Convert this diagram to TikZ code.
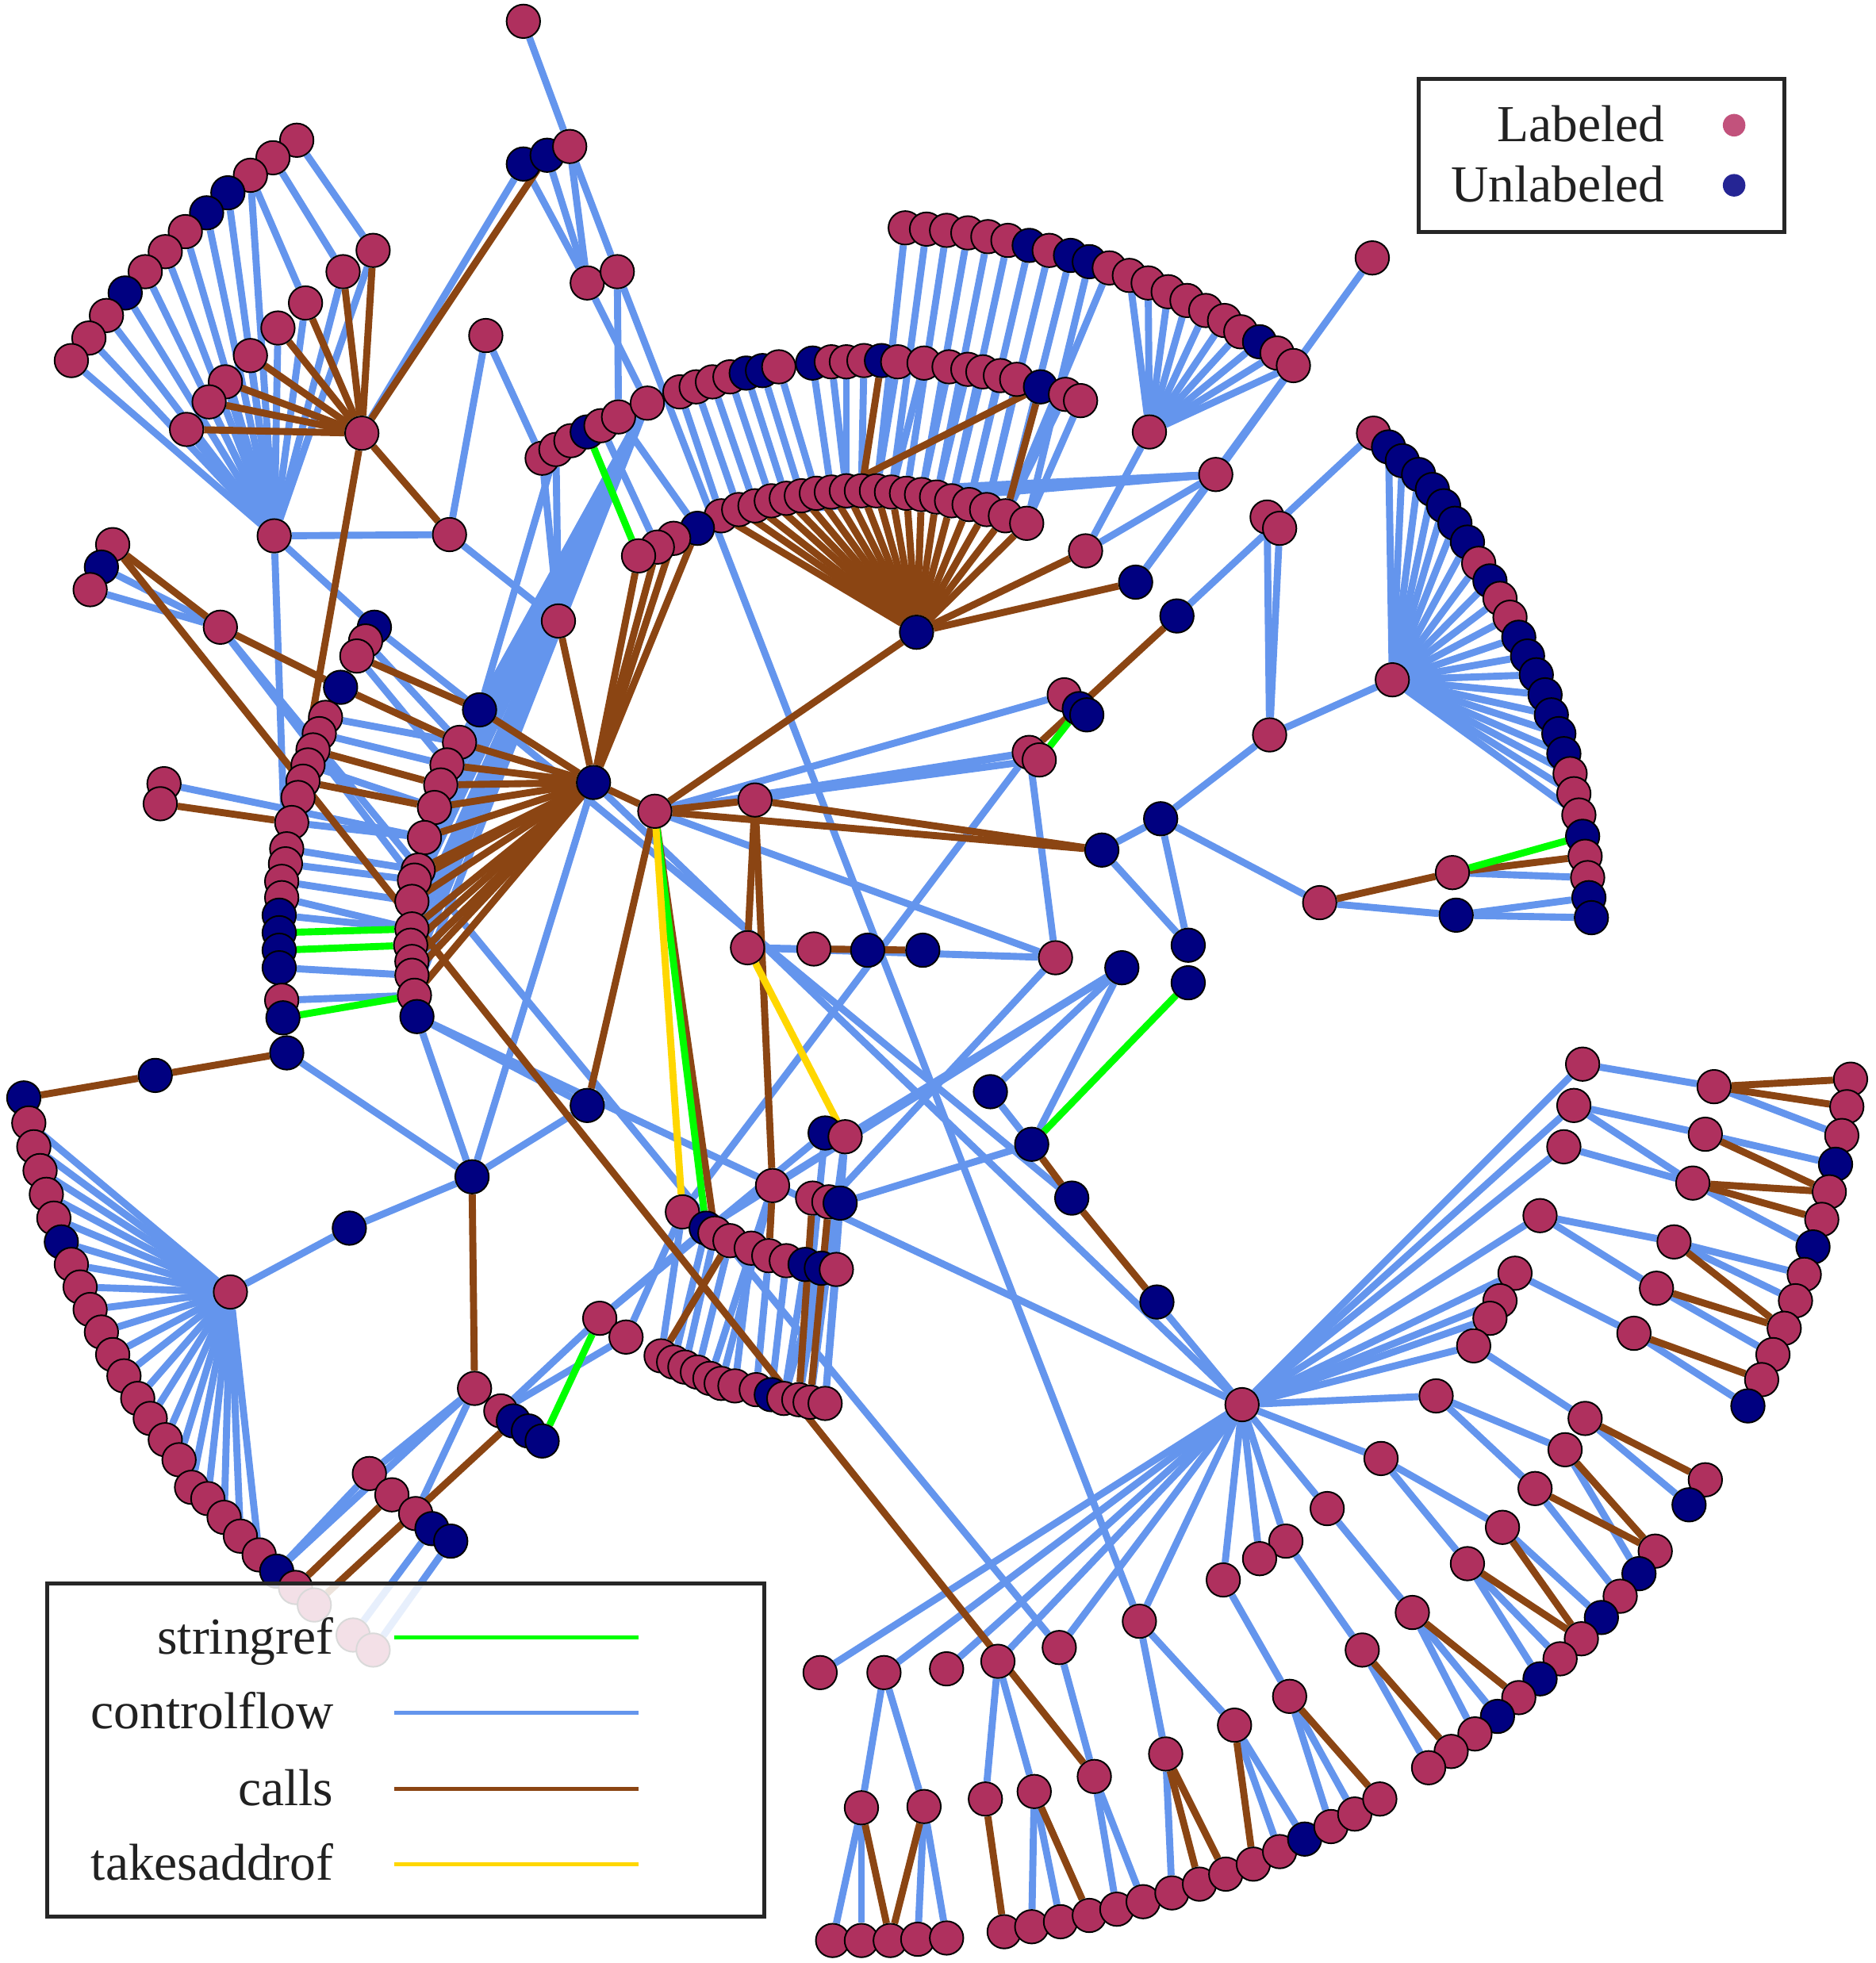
\documentclass[tikz,border=0pt]{standalone}
\usepackage{fontspec}
\setmainfont{Liberation Serif}
\usetikzlibrary{positioning}

\definecolor{L}{HTML}{AF305E}
\definecolor{U}{HTML}{000080}
\definecolor{azul}{HTML}{6495ED}
\definecolor{marrom}{HTML}{8B4513}
\definecolor{verde}{HTML}{00FF00}
\definecolor{amarelo}{HTML}{FFD700}
\definecolor{legL}{HTML}{C2527C}
\definecolor{legU}{HTML}{252594}
\definecolor{borda}{HTML}{262626}

\pgfdeclarelayer{fundo}
\pgfdeclarelayer{frente}
\pgfsetlayers{fundo,main,frente}

\begin{document}
\begin{tikzpicture}[x=0.01cm, y=-0.01cm]

  % ── Estilos ────────────────────────
  \tikzset{
    no/.style = {circle, draw=black, line width=0.35pt, minimum size=0.268cm, inner sep=0pt},
    fluxo/.style = {draw=azul, line width=1.6pt},
    chamada/.style = {draw=marrom, line width=1.6pt},
    strref/.style = {draw=verde, line width=1.6pt},
    endereco/.style = {draw=amarelo, line width=1.6pt},
    caixa/.style = {draw=borda, line width=0.9pt, fill=white, fill opacity=0.85},
    rotulo/.style = {font=\fontsize{11.8}{14}\selectfont, text=black!87, inner sep=0pt},
    marca/.style = {circle, minimum size=0.18cm, inner sep=0pt},
    linhaleg/.style = {line width=0.9pt}
  }

  \useasboundingbox (0,0) rectangle (1498,1568);

  % =========================================================
  % 1. NOS
  % =========================================================

  % leque superior esquerdo
  \foreach \nome/\px/\py/\cor in {
    h1/219/428/L, h2/289/346/L,
    a1/237/112/L, a2/218/126/L, a3/200/140/L, a4/182/154/U, a5/165/170/U, a6/148/185/L,
    a7/132/201/L, a8/116/217/L, a9/100/234/U, a10/85/252/L, a11/71/270/L, a12/57/288/L,
    b1/298/200/L, b2/274/217/L, b3/244/242/L, b4/222/262/L, b5/200/284/L, b6/180/305/L,
    b7/167/321/L, b8/149/343/L,
    t1/418/17/L, t2/418/131/U, t3/437/124/U, t4/455/117/L, t5/469/226/L, t6/493/217/L,
    t7/388/268/L, t8/359/427/L, tr/1096/206/L,
    n1/176/501/L, n2/299/501/U, n3/292/512/L, n4/285/524/L, n5/272/549/U,
    n6/90/435/L, n7/81/453/U, n8/72/471/L, n9/131/626/L, n10/128/642/L}
    \node[no, fill=\cor] (\nome) at (\px,\py) {};

  % arcos superiores
  \foreach \nome/\px/\py/\cor in {
    p7/433/366/L, p6/444/359/L, p5/456/352/L, p4/469/345/U, p3/480/340/L, p2/494/333/L, p1/517/322/L,
    q1/543/313/L, q2/556/309/L, q3/569/305/L, q4/583/301/L, q5/596/298/U, q6/609/296/U,
    q7/622/293/L, q8/649/290/U, q9/664/289/L, q10/676/289/L, q11/690/288/L, q12/704/288/U,
    q13/717/289/L, q14/738/290/L, q15/758/293/L, q16/773/295/L, q17/785/297/L, q18/799/300/L,
    q19/812/303/L, q20/831/309/U, q21/851/315/L, q22/863/320/L,
    s1/723/182/L, s2/740/183/L, s3/756/184/L, s4/773/186/L, s5/789/189/L, s6/805/192/L,
    s7/822/196/U, s8/838/200/L, s9/855/204/U, s10/870/209/U, s11/886/214/L, s12/902/220/L,
    s13/917/226/L, s14/933/233/L, s15/948/240/L, s16/963/248/L, s17/978/256/L, s18/991/265/L,
    s19/1006/273/U, s20/1020/282/L, s21/1033/292/L,
    hs/918/345/L, hx/971/379/L,
    r1/576/412/L, r2/590/407/L, r3/603/404/L, r4/616/400/L, r5/628/398/L, r6/640/396/L,
    r7/652/394/L, r8/664/393/L, r9/676/392/L, r10/688/392/L, r11/700/392/L, r12/712/393/L,
    r13/724/394/L, r14/736/395/L, r15/748/397/L, r16/760/400/L, r17/774/403/L, r18/788/407/L,
    r19/803/412/L, r20/820/418/L,
    l1/557/422/U, l2/538/430/L, l3/525/437/L, l4/510/444/L, hb/732/505/U}
    \node[no, fill=\cor] (\nome) at (\px,\py) {};

  % colunas da esquerda
  \foreach \nome/\px/\py/\cor in {
    e1/260/573/L, e2/255/586/L, e3/250/599/L, e4/246/611/L, e5/242/624/L, e6/238/637/L,
    e7/233/657/L, e8/229/678/L, e9/228/690/L, e10/225/704/L, e11/225/717/L, e12/223/731/U,
    e13/223/745/U, e14/223/759/U, e15/223/773/U, e16/225/799/L, e17/226/813/U, e18/229/841/U,
    cu/383/567/U, m/446/496/L,
    c1/367/593/L, c2/357/611/L, c3/352/627/L, c4/347/645/L, c5/339/669/L, c6/334/695/L,
    c7/331/703/L, c8/329/720/L, c9/329/742/L, c10/328/755/L, c11/329/768/L, c12/329/779/L,
    c13/331/795/L, c14/333/812/U, hc/474/625/U}
    \node[no, fill=\cor] (\nome) at (\px,\py) {};

  % leque inferior esquerdo
  \foreach \nome/\px/\py/\cor in {
    hd/184/1032/L,
    d0/19/877/U, d1/23/897/L, d2/27/916/L, d3/32/935/L, d4/37/954/L, d5/43/973/L, d6/49/992/U,
    d7/57/1010/L, d8/64/1028/L, d9/72/1046/L, d10/81/1064/L, d11/90/1082/L, d12/99/1099/L,
    d13/110/1117/L, d14/120/1133/L, d15/132/1150/L, d16/143/1166/L, d17/153/1188/L,
    d18/166/1197/L, d19/179/1212/L, d20/192/1227/L, d21/207/1242/L, d22/221/1255/U,
    d23/236/1268/L, d24/251/1282/L, d25/282/1306/L, d26/298/1318/L,
    f1/295/1177/L, f2/313/1194/L, f3/332/1209/L, f4/345/1221/U, f5/360/1231/U,
    g1/379/1109/L, g2/400/1127/L, g3/410/1135/U, g4/422/1143/U, g5/433/1151/U,
    g6/479/1053/L, g7/500/1068/L}
    \node[no, fill=\cor] (\nome) at (\px,\py) {};

  % centro
  \foreach \nome/\px/\py/\cor in {
    hm/523/648/L, x1/603/639/L, x2/597/757/L, x3/650/758/L, x4/693/759/U, x5/737/759/U,
    x6/843/765/L, x7/850/555/L, x8/862/566/U, x9/868/571/U, x10/822/601/L, x11/830/607/L,
    x12/880/679/U, x13/927/654/U, x14/949/755/U, x15/896/773/U, x16/949/785/U, x17/867/440/L,
    x18/907/465/U, x19/940/492/U, x20/469/883/U, x21/377/940/U, x22/279/981/U, x23/124/859/U,
    w1/791/872/U, w2/824/914/U, w3/856/957/U, w4/924/1040/U,
    y15/659/905/U, y16/675/908/L, y1/617/947/L, y2/649/957/L, y3/662/960/L, y4/671/961/U,
    y5/545/968/L, y6/564/981/U, y7/571/985/L, y8/583/991/L, y9/600/997/L, y10/614/1003/L,
    y11/628/1007/L, y12/643/1010/U, y13/656/1013/U, y14/668/1014/L,
    z1/528/1083/L, z2/538/1088/L, z3/547/1092/L, z4/557/1096/L, z5/567/1101/L, z6/576/1105/L,
    z7/587/1107/L, z8/604/1110/L, z9/616/1114/U, z10/626/1117/L, z11/638/1118/L,
    z12/647/1120/L, z13/659/1121/L}
    \node[no, fill=\cor] (\nome) at (\px,\py) {};

  % direita
  \foreach \nome/\px/\py/\cor in {
    j1/1014/587/L, j2/1012/413/L, j3/1022/422/L, hj/1112/543/L,
    v1/1097/346/L, v2/1109/357/U, v3/1120/368/U, v4/1133/379/U, v5/1144/391/U, v6/1153/404/U,
    v7/1162/418/U, v8/1172/433/U, v9/1181/450/L, v10/1190/464/U, v11/1198/478/L, v12/1206/493/L,
    v13/1213/509/U, v14/1220/524/U, v15/1227/539/U, v16/1234/555/U, v17/1239/571/U,
    v18/1245/586/U, v19/1249/602/U, v20/1254/618/L, v21/1257/634/L, v22/1261/651/L,
    v23/1264/668/U, v24/1266/684/L, v25/1268/701/L, v26/1269/717/U, v27/1271/733/U,
    o1/1160/697/L, o2/1163/731/U, o3/1054/721/L}
    \node[no, fill=\cor] (\nome) at (\px,\py) {};

  % leque inferior direito
  \foreach \nome/\px/\py/\cor in {
    hg/992/1122/L,
    ga1/1264/850/L, ga2/1257/883/L, ga3/1249/916/L, ga4/1230/971/L, ga5/1210/1017/L,
    ga6/1198/1039/L, ga7/1190/1053/L, ga8/1177/1075/L, ga9/1147/1115/L, ga10/1103/1165/L,
    gb1/1369/868/L, gb2/1362/906/L, gb3/1352/945/L, gb4/1337/992/L, gb5/1323/1029/L,
    gb6/1305/1065/L, gb7/1266/1133/L, gb8/1250/1158/L,
    gc1/1478/862/L, gc2/1475/884/L, gc3/1471/907/L, gc4/1466/930/U, gc5/1461/952/L,
    gc6/1455/974/L, gc7/1448/996/U, gc8/1441/1018/L, gc9/1434/1039/L, gc10/1425/1061/L,
    gc11/1416/1082/L, gc12/1407/1102/L, gc13/1396/1123/U,
    gd1/1362/1182/L, gd2/1349/1202/U, gd3/1322/1239/L, gd4/1309/1257/U, gd5/1294/1275/L,
    gd6/1279/1292/U, gd7/1263/1309/L, gd8/1246/1325/L, gd9/1230/1341/U, gd10/1213/1356/L,
    gd11/1196/1371/U, gd12/1178/1385/L, gd13/1159/1399/L, gd14/1141/1412/L,
    ge1/1226/1189/L, ge2/1200/1220/L, ge3/1172/1249/L, ge4/1128/1288/L, ge5/1088/1318/L,
    ge6/1060/1205/L, ge7/1027/1231/L, ge8/1006/1245/L, ge9/977/1262/L, ge10/1030/1355/L,
    ge11/986/1378/L, ge12/931/1401/L, ge13/874/1419/L, ge14/826/1431/L, ge15/787/1437/L,
    ge16/738/1443/L, ge17/688/1444/L,
    gf1/910/1295/L, gf2/846/1316/L, gf3/797/1327/L, gf4/756/1333/L, gf5/706/1336/L, gf6/655/1336/L,
    gg1/665/1550/L, gg2/688/1550/L, gg3/711/1550/L, gg4/733/1549/L, gg5/756/1548/L,
    gg6/802/1543/L, gg7/824/1539/L, gg8/847/1535/L, gg9/870/1530/L, gg10/892/1525/L,
    gg11/913/1519/L, gg12/936/1512/L, gg13/958/1505/L, gg14/979/1497/L, gg15/1001/1489/L,
    gg16/1022/1479/L, gg17/1042/1469/U, gg18/1063/1459/L, gg19/1082/1449/L, gg20/1102/1437/L}
    \node[no, fill=\cor] (\nome) at (\px,\py) {};

  % =========================================================
  % 2. ARESTAS (atras dos nos)
  % =========================================================
  \begin{pgfonlayer}{fundo}

    % controlflow
    \foreach \i in {4,...,12} \draw[fluxo] (a\i) -- (h1);
    \foreach \i in {1,...,8} \draw[fluxo] (b\i) -- (h1);
    \foreach \i in {12,...,21} \draw[fluxo] (s\i) -- (hs);
    \foreach \i in {1,...,7} \draw[fluxo] (hx) -- (r\i);
    \foreach \i in {1,...,13} \draw[fluxo] (p1) -- (c\i);
    \foreach \i in {1,...,21} \draw[fluxo] (hd) -- (d\i);
    \foreach \i in {2,...,22} \draw[fluxo] (hj) -- (v\i);
    \foreach \i in {1,...,10} \draw[fluxo] (hg) -- (ga\i);
    \foreach \i in {6,...,9} \draw[fluxo] (hg) -- (ge\i);
    \foreach \i in {1,...,6} \draw[fluxo] (hg) -- (gf\i);
    \foreach \de/\para in {
      a1/b1, a2/b2, a3/b3, a3/h1, h2/t2, t1/t4, t4/t5, t4/t6, t2/t5, t3/t5, t5/p1, t6/p2,
      t7/t8, t7/p7, t8/h1, t8/m, h1/n2, h1/e9, n2/cu, n3/c1, n4/c2, n7/n1, n8/n1, n1/c7,
      n9/c5, p6/m, p7/m, p6/cu, p2/l1, p3/l3,
      s1/r11, s2/r12, s3/r13, s4/r14, s5/r15, s6/r16, s7/r17, s8/r18, s9/r19, s10/r20, s11/r19,
      q1/r1, q2/r2, q3/r3, q4/r4, q5/r5, q6/r6, q7/r7, q8/r8, q9/r9, q10/r9, q11/r10,
      q13/r11, q14/r12, q15/r14, q16/r15, q17/r16, q18/r17, q19/r18, q21/r19, q22/r20,
      tr/hx, hs/x17, hx/x17, hx/x18, s21/x18, x19/v1,
      e1/c1, e2/c2, e4/c4, e7/c5, e8/c6, e9/c7, e10/c8, e11/c9, e12/c9, e15/c12, e16/c13,
      hd/x22, x22/x21, d22/f1, d22/g1, d25/f4, d26/f5, g1/f1, g1/f3, g2/g6, g2/g7, g6/y6,
      g6/y15, g7/y5, x21/e18, x21/c14, x20/x21, x20/c14, hc/x21,
      hm/x7, hm/x10, hm/x11, x1/x10, hm/x6, x2/x3, x3/x4, x4/x5, x2/x6, x10/x6, x10/y5,
      x6/y3, x13/x12, x13/x14, x12/x14, x13/j1, x13/o3, x15/y16, x15/y6, x15/y1, w1/x15,
      w2/x15, w1/w2, w2/y4, w4/hg, j3/j1, j2/j1, j1/hj, v25/o1, v26/o2, v27/o2, o3/o2, cu/w3,
      y5/z1, y6/z2, y7/z3, y8/z4, y1/z5, y1/z6, y9/z7, y10/z8, y11/z9, y12/z10, y13/z11,
      y4/z10, y16/z12, y16/z13, y14/z13, y15/z11,
      t6/gf1, hc/hg, c14/hg, n1/gf2,
      ga1/gb1, gb1/gc3, ga2/gb2, ga2/gb3, gb2/gc4, ga3/gb3, gb3/gc7, ga4/gb4, ga4/gb5,
      gb4/gc8, gb4/gc9, gb5/gc11, ga5/gb6, gb6/gc13, ga8/gb7, gb7/gd2, ga9/gb8, ga9/ge1,
      gb8/gd4, ga10/ge2, ga10/ge3, ge1/gd5, ge2/gd6, ge3/gd8, ge3/gd9, ge4/gd11, ge4/gd12,
      ge5/gd14, ge6/ge4, ge7/ge5, ge9/ge10, gf1/ge11, gf1/ge12, gf2/ge13, gf3/ge14, gf3/ge15,
      gf5/ge16, gf5/ge17, ge17/gg1, ge17/gg2, ge16/gg4, ge16/gg5, ge14/gg7, ge14/gg8,
      ge13/gg10, ge13/gg11, ge12/gg12, ge11/gg16, ge11/gg17, ge10/gg18, ge10/gg19}
      \draw[fluxo] (\de) -- (\para);

    % calls
    \foreach \i in {1,...,8} \draw[chamada] (b\i) -- (h2);
    \foreach \i in {1,...,20} \draw[chamada] (r\i) -- (hb);
    \foreach \i in {1,...,4} \draw[chamada] (l\i) -- (hc);
    \foreach \i in {1,...,13} \draw[chamada] (c\i) -- (hc);
    \foreach \de/\para in {
      h2/t3, h2/t8, h2/e6, q12/r10, q20/r8, q20/r19, hb/x17, hb/x18, hb/hm,
      cu/hc, m/hc, hc/hm, n6/n1, n6/ge13, n1/n5, n5/c1, n4/cu, n10/e7, e3/c3, e5/c4,
      e18/x23, x23/d0, x21/g1, hm/x20, hm/x1, hm/x12, x1/x12, x1/x2, x1/y1, y1/y10, x3/x5,
      x19/x10, o1/o3, v24/o1, w2/w3, w3/w4, d23/f2, d24/g3, hm/y7, y3/z12, y2/z11, y8/z1,
      gb1/gc1, gb1/gc2, gb2/gc5, gb3/gc5, gb3/gc6, gb4/gc10, gb5/gc10, gb6/gc12, gb7/gd1,
      gb8/gd3, ge1/gd3, ge2/gd7, ge3/gd7, ge4/gd10, ge5/gd13, ge10/gg20, ge11/gg15,
      ge12/gg13, ge12/gg14, ge14/gg9, ge15/gg6, ge16/gg3, ge17/gg3}
      \draw[chamada] (\de) -- (\para);

    % stringref e takesaddrof
    \foreach \de/\para in {p4/l4, e13/c9, e14/c10, e17/c13, x8/x11, x16/w2, v23/o1, g5/g6, hm/y6}
      \draw[strref] (\de) -- (\para);
    \foreach \de/\para in {hm/y5, x2/y16}
      \draw[endereco] (\de) -- (\para);

  \end{pgfonlayer}

  % =========================================================
  % 3. LEGENDAS
  % =========================================================
  \begin{pgfonlayer}{frente}

    % tipos de no
    \node[caixa, minimum width=2.92cm, minimum height=1.22cm] (cxno) at (1279,124) {};
    \node[rotulo, anchor=base east] (tlab) at (1330,113) {Labeled};
    \node[rotulo, anchor=base east] (tunl) at (1330,161) {Unlabeled};
    \node[marca, fill=legL] (mlab) at (1385,100) {};
    \node[marca, fill=legU] (munl) at (1385,148) {};

    % tipos de aresta
    \node[caixa, minimum width=5.72cm, minimum height=2.66cm] (cxaresta) at (324,1398) {};
    \foreach \nome/\txt/\py/\cor in {sr/stringref/1308/verde, cf/controlflow/1368/azul,
                                     ca/calls/1429/marrom, ta/takesaddrof/1489/amarelo} {
      \node[rotulo, anchor=base east] (t\nome) at (267,{\py+13}) {\txt};
      \coordinate (i\nome) at (315,\py);
      \coordinate (f\nome) at (510,\py);
      \draw[linhaleg, draw=\cor] (i\nome) -- (f\nome);
    }

  \end{pgfonlayer}

\end{tikzpicture}
\end{document}
